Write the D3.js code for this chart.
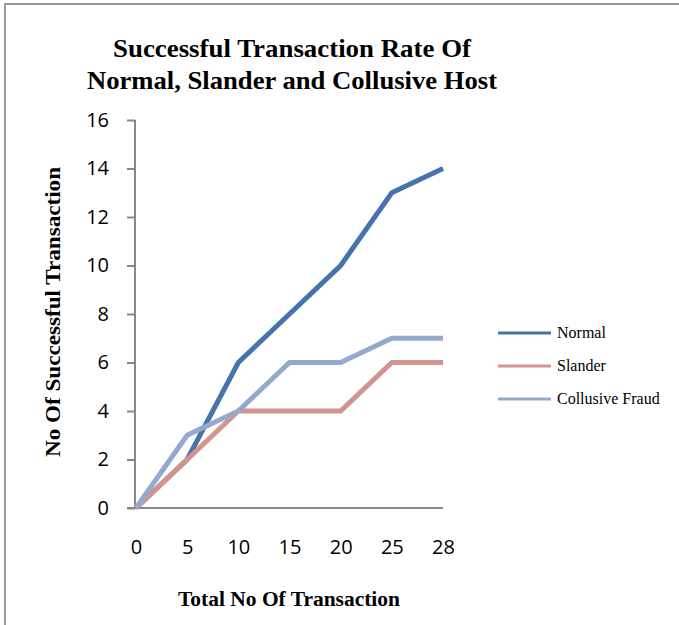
<!DOCTYPE html>
<html lang="en">
<head>
<meta charset="UTF-8">
<title>Successful Transaction Rate</title>
<script src="https://d3js.org/d3.v7.min.js"></script>
<style>
  body { margin: 0; background: #fff; }
  svg { display: block; }
</style>
</head>
<body>
<script>
// data
var categories = ['0', '5', '10', '15', '20', '25', '28'];
var normal = [0, 2, 6, 8, 10, 13, 14];
var slander = [0, 2, 4, 4, 4, 6, 6];
var collusive = [0, 3, 4, 6, 6, 7, 7];
var yTicks = [0, 2, 4, 6, 8, 10, 12, 14, 16];
var seriesNames = ['Normal', 'Slander', 'Collusive Fraud'];
var colors = ['#4673AA', '#D39391', '#93A9D0'];

var width = 679, height = 625;
var serif = 'Liberation Serif, Times New Roman, serif';
var svg = d3.select('body').append('svg').attr('width', width).attr('height', height);

// frame (only top and left edges show)
svg.append('line').attr('x1', 4).attr('x2', width).attr('y1', 4).attr('y2', 4)
  .attr('stroke', '#999').attr('stroke-width', 2);
svg.append('line').attr('x1', 5).attr('x2', 5).attr('y1', 4).attr('y2', height)
  .attr('stroke', '#999').attr('stroke-width', 2);

var x = d3.scalePoint().domain(categories).range([136, 443]);
var y = d3.scaleLinear().domain([0, 16]).range([508, 120]);

// title
var title = svg.append('g').attr('font-family', serif).attr('font-weight', 'bold')
  .attr('font-size', 26).attr('fill', '#000').attr('text-anchor', 'middle');
title.append('text').attr('x', 292).attr('y', 57).attr('textLength', 358)
  .attr('lengthAdjust', 'spacingAndGlyphs').text('Successful Transaction Rate Of');
title.append('text').attr('x', 292).attr('y', 89).attr('textLength', 410)
  .attr('lengthAdjust', 'spacingAndGlyphs').text('Normal, Slander and Collusive Host');

// y axis
var yAxis = svg.append('g').attr('transform', 'translate(135,0)')
  .call(d3.axisLeft(y).tickValues(yTicks).tickSize(8).tickPadding(18));
yAxis.select('.domain').attr('stroke', '#888').attr('stroke-width', 2).attr('d', 'M0,120V508');
yAxis.selectAll('.tick line').attr('stroke', '#888').attr('stroke-width', 2);
yAxis.selectAll('.tick text').attr('font-family', 'Open Sans, Liberation Sans, sans-serif')
  .attr('font-size', 20).attr('fill', '#000');

// x axis
var xAxis = svg.append('g').attr('transform', 'translate(0,508)')
  .call(d3.axisBottom(x).tickSize(0).tickPadding(32));
xAxis.select('.domain').attr('stroke', '#888').attr('stroke-width', 2).attr('d', 'M127,0H443');
xAxis.selectAll('.tick text').attr('font-family', 'Open Sans, Liberation Sans, sans-serif')
  .attr('font-size', 20).attr('fill', '#000');

// axis titles
svg.append('text').attr('x', 289).attr('y', 606).attr('text-anchor', 'middle')
  .attr('font-family', serif).attr('font-weight', 'bold').attr('font-size', 20)
  .attr('textLength', 222).attr('lengthAdjust', 'spacingAndGlyphs').text('Total No Of Transaction');
svg.append('text').attr('transform', 'translate(60,312) rotate(-90)').attr('text-anchor', 'middle')
  .attr('font-family', serif).attr('font-weight', 'bold').attr('font-size', 20)
  .attr('textLength', 290).attr('lengthAdjust', 'spacingAndGlyphs').text('No Of Successful Transaction');

// lines
var line = d3.line().x(function (d, i) { return x(categories[i]); }).y(function (d) { return y(d); });
[normal, slander, collusive].forEach(function (s, k) {
  svg.append('path').datum(s).attr('d', line).attr('fill', 'none')
    .attr('stroke', colors[k]).attr('stroke-width', 5);
});

// legend
var legend = svg.append('g');
seriesNames.forEach(function (name, k) {
  var ly = 333 + k * 33;
  legend.append('line').attr('x1', 498).attr('x2', 551).attr('y1', ly).attr('y2', ly)
    .attr('stroke', colors[k]).attr('stroke-width', 3);
  legend.append('text').attr('x', 557).attr('y', ly + 5)
    .attr('font-family', serif).attr('font-size', 16).attr('fill', '#000').text(name);
});
</script>
</body>
</html>
